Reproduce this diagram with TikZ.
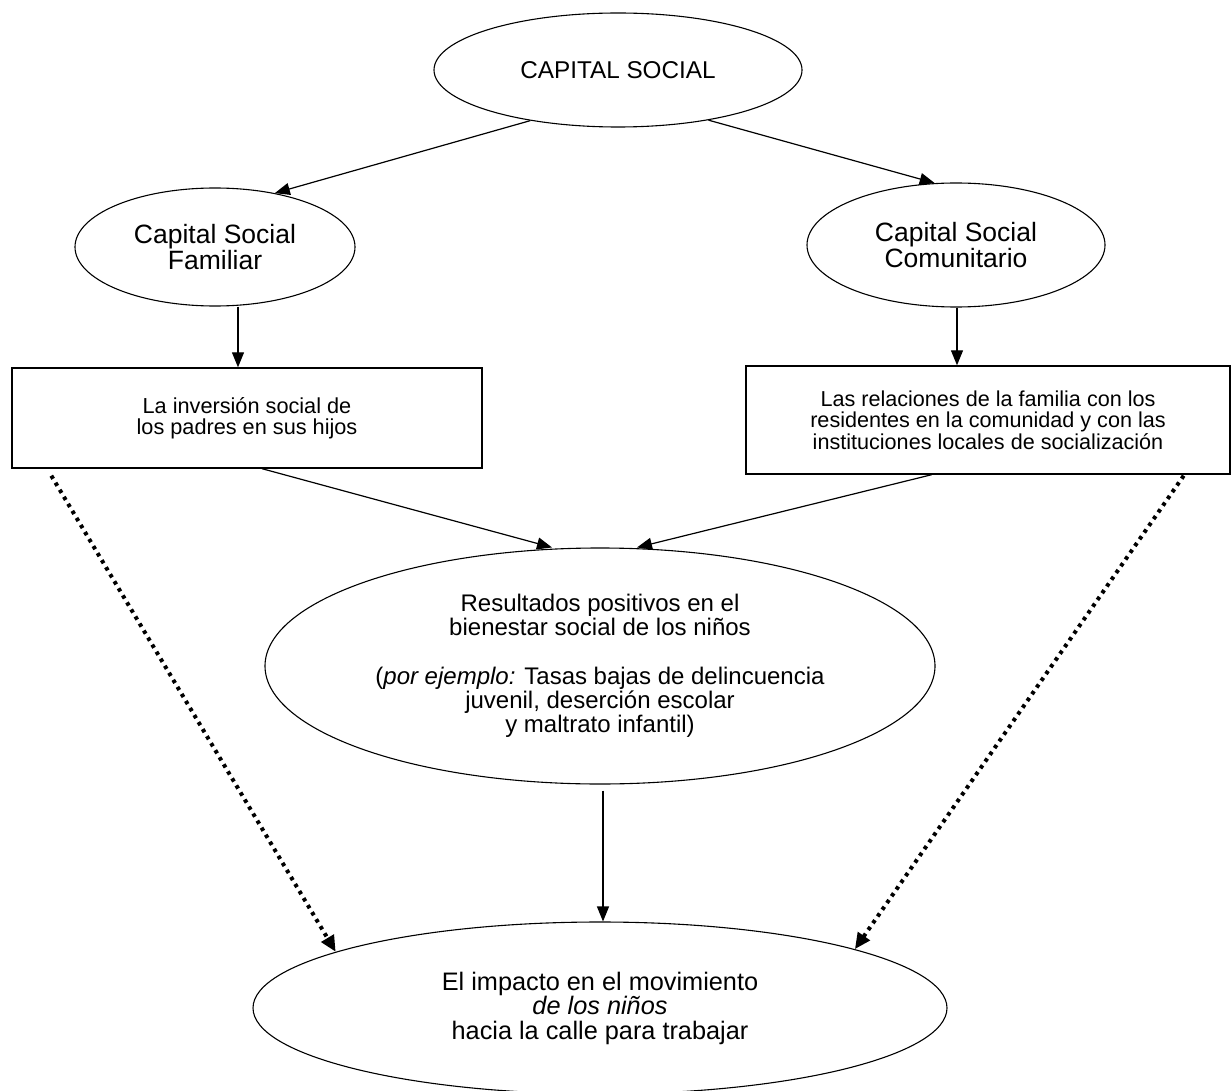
\documentclass[tikz,border=0pt]{standalone}
\usepackage{fontspec}
\setmainfont{Liberation Sans}
\usetikzlibrary{arrows.meta,calc,shapes.geometric}
\begin{document}
\begin{tikzpicture}[x=1pt,y=-1pt,
  ell/.style={draw, ellipse, line width=1.1pt, inner sep=0pt, align=center},
  boxn/.style={draw, rectangle, line width=1.4pt, inner sep=0pt, align=center},
  arr/.style={line width=1.2pt, -{Triangle[length=15pt,width=12pt]}},
  dotarr/.style={line width=4pt, dash pattern=on 3.6pt off 4.6pt, -{Triangle[length=16pt,width=14pt]}}]
\useasboundingbox (0,0) rectangle (1231,1091);
\fill[white] (0,0) rectangle (1231,1091);

\node[ell, minimum width=368pt, minimum height=114pt, font=\fontsize{24.3}{26}\selectfont] (cs) at (618,70) {CAPITAL SOCIAL};
\node[ell, minimum width=280pt, minimum height=118pt, font=\fontsize{26.5}{24}\selectfont] (fam) at (215,247) {Capital Social\\Familiar};
\node[ell, minimum width=298pt, minimum height=124pt, font=\fontsize{26.5}{24}\selectfont] (com) at (956,245) {Capital Social\\Comunitario};
\node[boxn, minimum width=470pt, minimum height=100pt, font=\fontsize{21.7}{21}\selectfont] (lbox) at (247,418) {La inversión social de\\los padres en sus hijos};
\node[boxn, minimum width=484pt, minimum height=108pt, font=\fontsize{21.6}{21.5}\selectfont] (rbox) at (988,420) {Las relaciones de la familia con los\\residentes en la comunidad y con las\\instituciones locales de socialización};
\node[ell, minimum width=670pt, minimum height=236pt, font=\fontsize{24}{24}\selectfont] (res) at (600,666) {Resultados positivos en el\\bienestar social de los niños\\[25pt](\textit{por ejemplo:} Tasas bajas de delincuencia\\juvenil, deserción escolar\\y maltrato infantil)};
\node[ell, minimum width=694pt, minimum height=172pt, font=\fontsize{25.3}{24.5}\selectfont] (imp) at (600,1008) {El impacto en el movimiento\\\textit{de los niños}\\hacia la calle para trabajar};

\coordinate (xl) at (238,0);
\coordinate (xr) at (957,0);
\coordinate (xm) at (603,0);

\draw[arr] (cs.210) -- (fam.42);
\draw[arr] (cs.-29) -- (com.109);
\draw[arr] (fam.south -| xl) -- (lbox.north -| xl);
\draw[arr] (com.south -| xr) -- (rbox.north -| xr);
\draw[arr] ($(lbox.south west)!0.532!(lbox.south east)$) -- ($(res.north)+(-48,0)$);
\draw[arr] ($(rbox.south west)!0.384!(rbox.south east)$) -- ($(res.north)+(37,0)$);
\draw[arr] ($(res.south -| xm)+(0,6)$) -- (imp.north -| xm);
\draw[dotarr] ($(lbox.south west)+(40,7)$) -- (imp.168.5);
\draw[dotarr] ($(rbox.south east)+(-47,1)$) -- (imp.13);
\end{tikzpicture}
\end{document}
